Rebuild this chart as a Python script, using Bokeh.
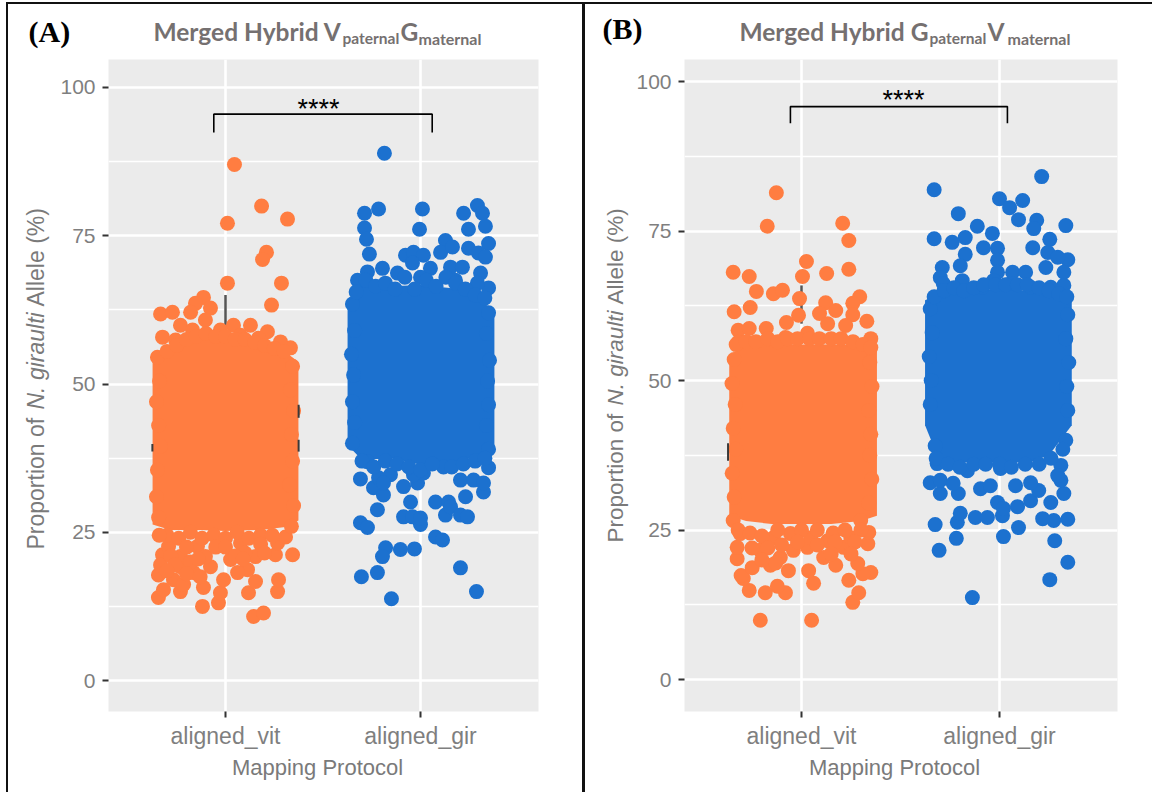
from bokeh.plotting import figure
from bokeh.layouts import row, column
from bokeh.models import FixedTicker, Div, Range1d
from bokeh.core.properties import value
from bokeh.embed import file_html
from bokeh.resources import INLINE

ORANGE = "#FF7D41"
BLUE = "#1C71CF"
y_ticks = [0, 25, 50, 75, 100]
y_minor = [-12.5, 12.5, 37.5, 62.5, 87.5]
x_labels = {1: "aligned_vit", 2: "aligned_gir"}

# Panel A, aligned_vit: individual points (jittered position, allele %)
a_vit_x = [1.046,1.185,1.010,1.318,1.210,1.190,1.010,1.287,1.236,.887,.846,.667,.728,.821,.923,1.041,1.128,1.215,1.333,.677,.769,
           .897,.974,.744,1.282,1.077,.831,1.169,
           .656,.769,.882,.964,.974,.990,.887,1.118,1.154,1.144,1.195,1.267,1.272,1.344,1.256,.656,.677,.769,.733,.923,1.113,1.026,1.154,.856,.708,.836,1.077,1.267,1.308,.682,.785,.897,.769,1.062,.667,
           .651,.662,.646,.657,.667,.651,.646,.657,1.344,1.333,1.349,1.338,1.344,1.328,1.349,1.338,
           .70,.75,.80,.85,.90,.95,1.0,1.05,1.10,1.15,1.20,1.25,1.30,
           .70,.76,.82,.88,.94,1.0,1.06,1.12,1.18,1.24,.66,.72,.80,.74,.82,.86,.70,.95,1.0,1.1,1.05,1.18,1.2,.8,.87,1.09]
a_vit_y = [87.0,80.0,77.1,77.8,72.2,71.0,67.0,67.0,63.3,64.6,63.6,61.8,62.1,62.1,62.8,59.9,59.9,58.8,56.1,57.9,59.9,
           60.8,59.1,57.4,57.1,58.2,59.1,57.7,
           14.0,15.0,12.5,13.1,14.8,17.0,15.7,14.8,16.7,10.8,11.4,15.0,17.0,21.2,21.2,17.8,21.2,19.2,17.0,19.2,18.7,20.4,20.9,22.6,22.6,18.2,23.2,23.2,24.2,15.3,16.2,20.9,20.9,18.2,19.5,
           54.5,50.5,47.0,43.0,39.5,35.5,31.0,27.5,53.0,49.0,45.5,41.5,37.0,33.0,29.5,26.0,
           55.5,56.5,57.5,58.0,58.5,58.0,58.0,57.5,57.5,57.0,56.5,56.0,55.5,
           24.5,24.0,25.0,24.0,24.5,24.0,25.0,24.0,24.5,24.5,24.5,21.0,22.5,19.5,20.0,20.5,18.5,22.5,22.5,21.5,21.0,23.0,21.5,18.0,17.5,20.5]
a_vit_core_x = [.626,.718,.872,1.0,1.179,1.308,1.374]
a_vit_core_lo = [26.3,25.4,25.4,25.2,25.4,25.9,27.0]
a_vit_core_hi = [54.4,56.6,58.2,57.4,56.6,55.4,53.7]

# Panel A, aligned_gir
a_gir_x = [1.815,1.785,1.713,2.010,1.995,2.221,2.292,2.318,2.333,2.246,1.713,1.723,1.738,2.349,2.128,2.103,2.164,2.246,2.297,2.333,1.923,1.964,2.015,1.959,1.805,1.728,1.882,2.051,2.154,2.215,2.308,2.349,2.292,2.179,2.0,1.677,
           1.692,1.759,1.810,1.785,1.846,1.810,1.913,1.985,2.015,1.964,1.779,1.949,1.913,2.0,1.959,2.0,1.692,1.728,2.077,2.144,2.128,2.154,2.205,2.241,2.231,2.323,2.205,2.272,2.349,2.118,2.323,1.728,2.077,2.113,1.821,1.805,1.897,1.969,1.779,1.697,2.205,1.851,2.287,
           1.651,1.662,1.646,1.657,1.651,1.662,1.651,2.349,2.338,2.354,2.344,2.349,2.338,2.349,
           1.67,1.72,1.77,1.82,1.87,1.92,1.97,2.03,2.08,2.13,2.18,2.23,2.28,2.33,
           1.70,1.76,1.82,1.88,1.94,2.0,2.06,2.16,2.22,2.28,2.33]
a_gir_y = [88.9,79.5,78.8,79.5,76.1,78.8,80.1,78.8,76.6,76.1,76.3,74.4,71.9,73.7,74.2,72.2,73.1,72.9,72.1,71.4,71.7,72.2,71.7,70.4,69.5,68.9,68.7,69.5,69.7,69.7,68.7,66.2,67.0,67.5,68.0,67.5,
           34.0,32.5,31.3,34.2,34.7,33.3,32.7,33.3,35.0,34.7,28.8,30.1,27.6,26.3,27.6,27.4,26.6,25.8,30.1,30.1,27.9,29.3,27.9,27.6,31.0,31.8,33.8,33.8,35.9,36.0,33.3,36.9,24.2,23.7,22.4,20.9,22.1,22.2,18.2,17.5,19.0,13.8,15.0,
           63.5,59.0,55.0,51.5,47.0,43.5,40.0,62.0,58.5,54.0,50.5,46.5,43.0,39.0,
           65.5,67.5,66.5,67.0,66.0,68.0,66.0,67.5,66.5,68.0,67.0,66.0,65.0,64.5,
           37.0,36.0,37.0,36.5,36.0,35.5,36.5,36.0,36.5,37.0,37.5]
a_gir_core_x = [1.626,1.7,1.85,2.0,2.2,2.379]
a_gir_core_lo = [39.7,37.2,37.5,36.4,36.9,38.9]
a_gir_core_hi = [64.1,66.7,66.5,66.7,66.0,62.5]

# Panel B, aligned_vit
b_vit_x = [.873,.827,1.208,1.239,1.025,1.005,.655,.736,1.127,1.239,.772,.858,.904,.990,1.294,1.259,1.122,.741,.660,1.173,1.091,.985,.924,1.259,1.330,1.132,1.223,.680,.736,.822,1.030,.680,1.350,.919,
           .792,1.051,1.259,1.289,1.239,1.350,1.310,1.061,1.036,.919,.878,.817,.736,.706,.695,.751,.675,.675,.934,.843,1.173,1.284,1.112,1.335,1.340,.792,.893,1.030,1.213,.959,.858,.944,1.046,1.132,1.249,.690,.655,1.299,
           .660,.649,.665,.655,.668,.650,.660,1.345,1.356,1.340,1.350,1.345,1.355,1.340,
           .67,.72,.77,.83,.88,.93,.98,1.04,1.09,1.15,1.2,1.26,1.31,1.35,
           .68,.74,.80,.88,1.0,1.08,1.16,1.22,1.3,.75,.83,.9,.98,1.08,1.17,1.27,.87,.8,1.15,1.25]
b_vit_y = [81.4,75.8,76.3,73.4,69.9,67.4,68.1,67.4,67.9,68.6,64.9,64.5,65.1,63.7,64.0,62.9,63.0,62.2,61.5,61.7,61.2,60.9,59.7,61.0,59.9,59.5,59.2,58.4,58.7,58.7,57.9,56.4,57.0,57.2,
           9.9,9.9,12.9,14.5,16.6,17.9,17.7,16.1,18.2,14.5,15.6,14.5,14.9,16.9,17.4,18.7,20.2,22.1,18.2,19.1,19.1,19.4,20.4,22.7,24.6,21.6,20.4,22.1,22.1,21.6,23.7,24.4,23.7,23.2,23.7,24.4,26.6,26.6,
           53.5,49.5,46.0,42.0,38.5,34.5,30.5,53.0,49.0,45.0,41.0,37.5,33.5,29.5,
           56.0,56.5,56.5,57.0,56.5,57.0,57.0,57.0,57.0,57.0,57.0,56.5,56.0,55.5,
           25.0,24.5,24.0,25.0,25.0,25.0,24.5,25.0,25.0,22.0,22.0,22.5,23.0,22.5,23.0,23.0,19.5,20.0,21.0,21.0]
b_vit_core_x = [.635,.72,.85,1.0,1.15,1.3,1.381]
b_vit_core_lo = [27.4,26.5,26.0,26.0,26.0,26.5,27.4]
b_vit_core_hi = [54.2,55.9,56.2,56.0,56.0,55.9,55.0]

# Panel B, aligned_gir
b_gir_x = [2.213,1.670,2.0,2.117,2.051,1.792,2.096,2.188,2.335,2.173,1.888,1.964,1.827,1.670,1.761,2.254,2.168,1.919,1.990,1.827,2.244,2.345,2.294,1.990,1.802,1.711,2.325,1.990,1.701,2.066,2.132,2.234,1.812,1.914,1.716,2.056,2.157,2.325,2.259,1.970,
           1.863,2.254,2.345,1.695,2.279,1.782,2.020,2.096,1.675,1.787,1.802,1.878,1.939,2.015,2.345,2.274,2.218,2.259,2.325,1.650,1.701,1.792,1.904,1.954,1.990,2.020,2.091,2.157,2.198,2.157,2.081,2.310,2.310,1.701,1.766,2.335,1.675,1.685,1.838,2.005,2.294,
           1.650,1.660,1.645,1.655,1.650,2.345,2.335,2.350,2.340,2.345,
           1.67,1.72,1.77,1.82,1.87,1.92,1.98,2.03,2.09,2.14,2.2,2.25,2.3,2.34,
           1.68,1.74,1.8,1.87,1.93,2.0,2.06,2.13,2.2,2.26,2.32]
b_gir_y = [84.1,81.9,80.4,80.1,78.9,77.9,76.9,76.8,75.9,75.4,75.8,74.6,73.9,73.7,73.1,73.6,72.2,72.2,72.1,71.1,71.4,70.2,70.6,70.1,69.2,68.9,68.1,68.1,67.2,68.1,68.1,68.9,66.7,65.6,66.2,66.2,65.6,65.9,65.6,66.7,
           13.7,16.7,19.6,21.6,23.2,23.6,23.9,25.4,25.9,26.3,27.8,27.1,27.1,27.4,26.8,26.6,26.9,29.6,31.1,32.9,31.1,31.1,31.9,32.4,29.6,28.6,28.9,29.9,31.6,32.9,32.4,33.3,35.8,33.3,32.8,40.0,39.1,36.1,34.9,35.3,34.1,
           62.0,58.0,54.0,50.0,46.0,61.0,57.0,53.0,49.0,45.0,
           64.0,65.0,65.5,65.0,65.5,66.0,66.0,66.0,66.0,66.0,65.5,65.0,64.5,64.0,
           37.0,36.0,35.5,36.0,36.0,36.0,35.5,36.0,36.0,37.0,38.5]
b_gir_core_x = [1.624,1.7,1.85,2.0,2.15,2.25,2.365]
b_gir_core_lo = [42.5,36.3,36.3,36.3,36.3,37.5,42.5]
b_gir_core_hi = [63.4,64.5,65.0,65.4,65.0,64.5,63.4]

a_whisker = [59.4, 65.0]
b_whisker = [59.5, 65.9]
# Box edges of the box plot that peep out from behind the points: x, low, high
a_box_x, a_box_lo, a_box_hi = [1.375, 1.375, 0.625], [44.3, 38.6, 38.6], [46.5, 40.6, 39.9]
b_box_x, b_box_lo, b_box_hi = [0.629], [36.6], [39.5]
a_bracket_x, a_bracket_y = [0.94, 0.94, 2.06, 2.06], [92.4, 95.5, 95.5, 92.4]
b_bracket_x, b_bracket_y = [0.944, 0.944, 2.04, 2.04], [93.0, 95.8, 95.8, 93.0]
GRAY = "#757070"
TOP_OFFSET = 4          # the figures start below a 4px band with the frame line
PAGE_W, PAGE_BOTTOM = 1152, 792
H = PAGE_BOTTOM - TOP_OFFSET


def panel(fig_x0, fig_x1, left, right, top, bottom, y0, y100, x1, x2,
          vit, gir, whisker, bracket, box):
    sx = (x2 - x1)
    sy = (y0 - y100) / 100.0
    xr = (1 + (left - x1) / sx, 2 + (right - x2) / sx)
    yr = ((y0 - bottom) / sy, (y0 - top) / sy)
    p = figure(width=fig_x1 - fig_x0, height=H, x_range=xr, y_range=yr, output_backend="svg",
               toolbar_location=None, min_border_left=left - fig_x0,
               min_border_right=fig_x1 - right, min_border_top=top - TOP_OFFSET,
               min_border_bottom=PAGE_BOTTOM - bottom, outline_line_color=None,
               background_fill_color="#EBEBEB", border_fill_color="white")
    p.yaxis.ticker = FixedTicker(ticks=y_ticks, minor_ticks=y_minor)
    p.xaxis.ticker = FixedTicker(ticks=[1, 2])
    p.xaxis.major_label_overrides = x_labels
    for ax in (p.xaxis[0], p.yaxis[0]):
        ax.axis_line_color = None
        ax.major_tick_line_color = "#333333"
        ax.major_tick_line_width = 2
        ax.major_tick_in = 0
        ax.major_tick_out = 6
        ax.minor_tick_line_color = None
        ax.major_label_text_color = "#7F7F7F"
        ax.major_label_text_font = "Liberation Sans"
        ax.major_label_text_font_size = "21px"
        ax.major_label_standoff = 7
    p.xaxis.major_label_text_font_size = "23px"
    p.xaxis.major_label_standoff = 5
    p.ygrid.grid_line_color = "white"
    p.ygrid.grid_line_width = 2.6
    p.ygrid.minor_grid_line_color = "white"
    p.ygrid.minor_grid_line_width = 1.4
    p.xgrid.grid_line_color = "white"
    p.xgrid.grid_line_width = 2.6

    p.line([1, 1], whisker, line_color="#555555", line_width=2.5)
    for (cx, lo, hi, px_, py_), color in ((vit, ORANGE), (gir, BLUE)):
        p.varea(x=cx, y1=lo, y2=hi, color=color)
        p.scatter(px_, py_, size=15, color=color, line_color=None)
    p.segment(box[0], box[1], box[0], box[2], line_color="#3A3A3A", line_width=2)
    p.line(bracket[0], bracket[1], line_color="black", line_width=1.6)
    return p


pA = panel(8, 582, 108, 538, 59, 712, 681, 87, 225, 420,
           (a_vit_core_x, a_vit_core_lo, a_vit_core_hi, a_vit_x, a_vit_y),
           (a_gir_core_x, a_gir_core_lo, a_gir_core_hi, a_gir_x, a_gir_y),
           a_whisker, (a_bracket_x, a_bracket_y), (a_box_x, a_box_lo, a_box_hi))
pB = panel(585, 1152, 684, 1117, 59, 711, 679, 81, 801, 999,
           (b_vit_core_x, b_vit_core_lo, b_vit_core_hi, b_vit_x, b_vit_y),
           (b_gir_core_x, b_gir_core_lo, b_gir_core_hi, b_gir_x, b_gir_y),
           b_whisker, (b_bracket_x, b_bracket_y), (b_box_x, b_box_lo, b_box_hi))

# Transparent page-sized figure on top: it holds every text that lies outside a plot frame.
ov = figure(width=PAGE_W, height=PAGE_BOTTOM, x_range=Range1d(0, PAGE_W), y_range=Range1d(PAGE_BOTTOM, 0),
            x_axis_type=None, y_axis_type=None, output_backend="svg", toolbar_location=None,
            min_border=0, outline_line_color=None, background_fill_alpha=0, border_fill_alpha=0,
            styles={"position": "absolute", "left": "0px", "top": "0px", "pointer-events": "none"})
ov.xgrid.visible = False
ov.ygrid.visible = False


def text(px, py, s, size, color=GRAY, font="Lato", style="normal", angle=0, align="left"):
    # The drawn baseline falls about 0.4 of the font size past the requested position.
    if angle:
        px -= 0.4 * size
    else:
        py -= 0.4 * size
    ov.text([px], [py], text=[s], text_font=value(font), text_font_size=f"{size}px", text_color=color,
            text_font_style=style, angle=angle, text_align=align, text_baseline="alphabetic")


SANS = "Liberation Sans"
text(28, 43, "(A)", 30, "black", "Liberation Serif", "bold")
text(153, 41, "Merged Hybrid V", 24.5, style="bold")
text(342, 44, "paternal", 15.5, style="bold")
text(400, 41, "G", 24.5, style="bold")
text(418, 44, "maternal", 16, style="bold")
text(318, 119, "****", 27, "black", SANS, align="center")
text(45, 549, "Proportion of", 23, "#7A7A7A", SANS, angle=1.5708)
text(45, 409, "N. giraulti", 23, "#7A7A7A", SANS, "italic", angle=1.5708)
text(45, 306, "Allele (%)", 23, "#7A7A7A", SANS, angle=1.5708)
text(317, 776, "Mapping Protocol", 22, "#7A7A7A", SANS, align="center")

text(602, 40, "(B)", 30, "black", "Liberation Serif", "bold")
text(739, 41, "Merged Hybrid G", 24.5, style="bold")
text(929, 44, "paternal", 15.5, style="bold")
text(987, 41, "V", 24.5, style="bold")
text(1007, 44, "maternal", 16, style="bold")
text(903, 110, "****", 27, "black", SANS, align="center")
text(624, 542, "Proportion of", 22.5, "#7A7A7A", SANS, angle=1.5708)
text(624, 405, "N. giraulti", 22.5, "#7A7A7A", SANS, "italic", angle=1.5708)
text(624, 304, "Allele (%)", 22.5, "#7A7A7A", SANS, angle=1.5708)
text(894, 776, "Mapping Protocol", 22, "#7A7A7A", SANS, align="center")

top_line = Div(width=1146, height=2, margin=(2, 0, 0, 6), styles={"background": "#111111"})
left_line = Div(width=2, height=H, margin=(0, 0, 0, 6), styles={"background": "#111111"})
mid_line = Div(width=3, height=H, margin=0, styles={"background": "#111111"})
layout = column(top_line, row(left_line, pA, mid_line, pB, spacing=0), ov, spacing=0)
open("out.html", "w").write(file_html(layout, INLINE))
